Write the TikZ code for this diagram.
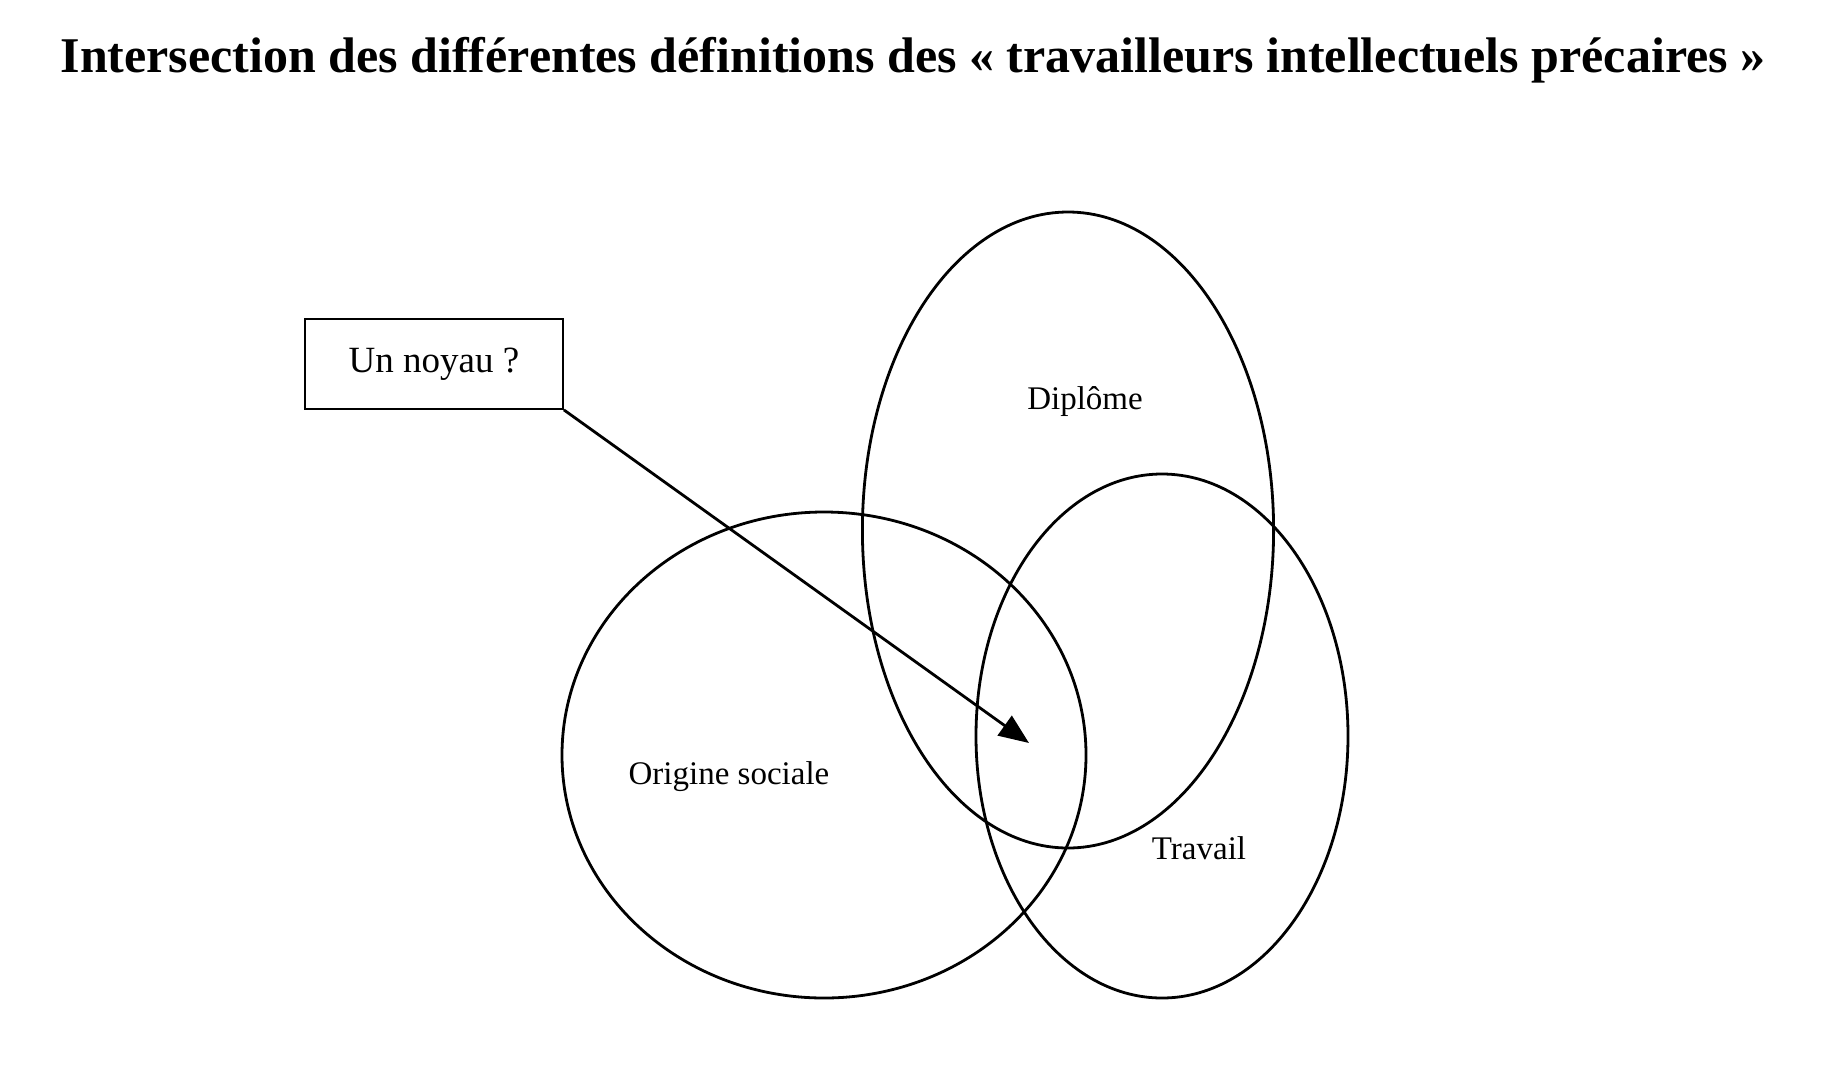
\documentclass[tikz,border=0pt]{standalone}
\usepackage{fontspec}
\setmainfont{Liberation Serif}
\usetikzlibrary{arrows.meta}
\begin{document}
\begin{tikzpicture}[x=1pt,y=-1pt,
  setline/.style={line width=2.8pt},
  lbl/.style={font=\fontsize{33}{38}\selectfont, inner sep=0pt}]
\useasboundingbox[fill=white] (0,0) rectangle (1837,1080);
\node[font=\bfseries\fontsize{50}{60}\selectfont, inner sep=0pt] (title) at (913,60) {Intersection des différentes définitions des « travailleurs intellectuels précaires »};
\draw[setline] (1068,530) ellipse [x radius=205.6, y radius=318];
\draw[setline] (824,755) ellipse [x radius=262, y radius=243];
\draw[setline] (1162,736) ellipse [x radius=186, y radius=262];
\node[lbl] (dip) at (1085,402) {Diplôme};
\node[lbl] (orig) at (729,777) {Origine sociale};
\node[lbl] (trav) at (1199,848) {Travail};
\node[draw, line width=1.8pt, minimum width=258pt, minimum height=90pt, inner sep=0pt, font=\fontsize{37}{42}\selectfont] (box) at (434,364) {Un noyau ?};
\coordinate (tip) at (1029,743);
\draw[line width=2.8pt, -{Triangle[length=30pt,width=24pt]}] (box.south east) -- (tip);
\end{tikzpicture}
\end{document}
